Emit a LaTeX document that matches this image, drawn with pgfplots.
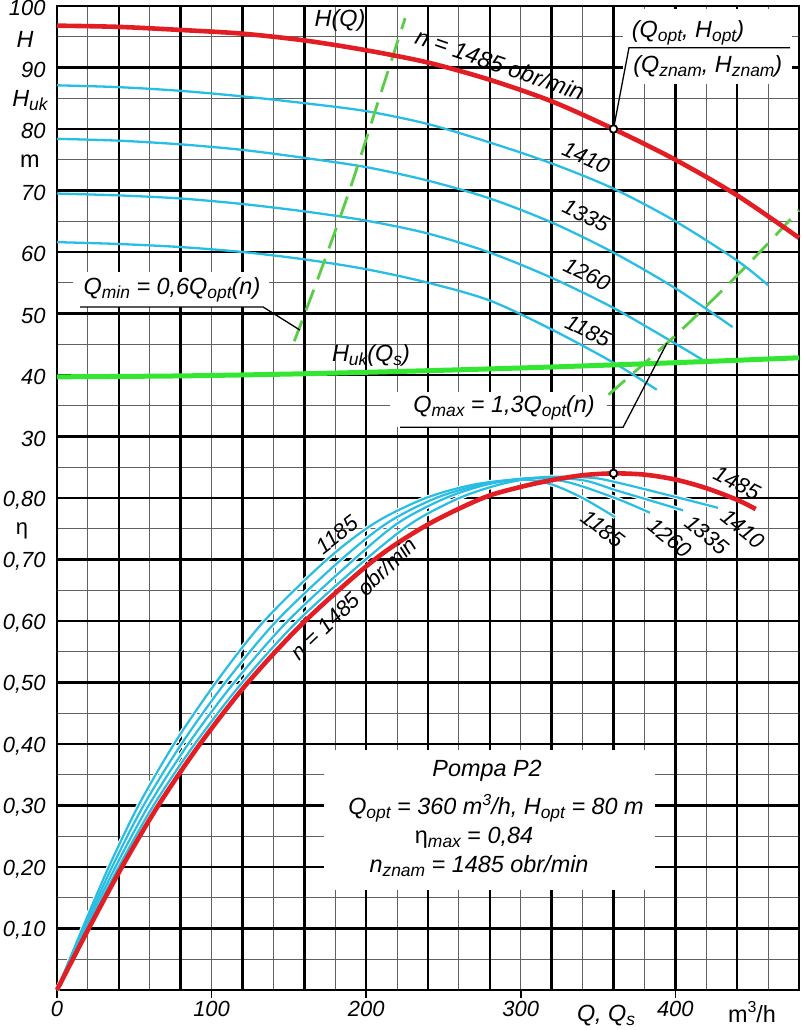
\documentclass[border=0pt]{standalone}
\usepackage{pgfplots}
\usepackage{pgfplotstable}
\pgfplotsset{compat=1.18}
\usepackage{fontspec}
\setmainfont{Liberation Sans}
\definecolor{cred}{RGB}{226,30,36}
\definecolor{ccyan}{RGB}{40,190,228}
\definecolor{cgreen}{RGB}{50,230,50}
\definecolor{cdash}{RGB}{90,205,70}
\newcommand{\fs}{\fontsize{22}{24}\selectfont}
\newcommand{\fl}{\fontsize{23.5}{26}\selectfont}
\newcommand{\sbs}[1]{\raisebox{-0.32ex}{\fontsize{17.5}{18}\selectfont\itshape #1}}
\newcommand{\sps}[1]{\raisebox{0.75ex}{\fontsize{16}{17}\selectfont #1}}

% H(Q) curves
\pgfplotstableread{
Q H
0 96.8
40 96.6
80 96.1
120 95.5
160 94.4
200 92.8
240 90.8
280 88.0
320 84.5
360 80.0
400 75.0
440 69.2
480 62.3
}\hA
\pgfplotstableread{
Q H
0 87.1
40 86.8
80 86.2
120 85.3
160 84.2
200 82.9
240 80.8
280 77.8
320 74.4
360 70.3
400 65.0
440 58.6
460 54.6
}\hB
\pgfplotstableread{
Q H
0 78.4
40 78.1
80 77.5
120 76.6
160 75.3
200 73.8
240 71.6
280 68.7
320 64.8
360 59.9
400 54.1
437 47.8
}\hC
\pgfplotstableread{
Q H
0 69.5
40 69.2
80 68.7
120 67.8
160 66.6
200 65.1
240 63.0
280 59.9
320 55.8
360 50.9
400 45.1
418 42.4
}\hD
\pgfplotstableread{
Q H
0 61.6
40 61.3
80 60.8
120 60.0
160 58.8
200 57.2
240 55.0
280 52.1
320 47.4
360 42.0
388 37.6
}\hE
\pgfplotstableread{
Q H
0 39.7
80 39.85
160 40.2
240 40.7
320 41.3
400 42.0
480 42.8
}\huk
\pgfplotstableread{
Q H
153.5 45.5
170 56.5
190 70.6
210 86.2
225.2 98.0
}\qmin
\pgfplotstableread{
Q H
356.8 36.8
380 41.9
400 46.4
420 51.2
440 56.2
460 61.4
480 66.8
}\qmax

% efficiency curves
\pgfplotstableread{
Q eta
0 0
20.5 0.1
42 0.2
65.5 0.3
92.5 0.4
123.5 0.5
160.5 0.6
205.5 0.7
240 0.757
275.5 0.8
300 0.818
320 0.829
340 0.837
360 0.840
380 0.838
400 0.830
420 0.816
440 0.797
452 0.782
}\eA
\pgfplotstableread{
Q eta
0 0
19.5 0.1
39.9 0.2
62.4 0.3
89.1 0.4
119.8 0.5
155.7 0.6
199.7 0.7
230 0.76
260.3 0.8
288 0.823
315 0.834
345 0.833
361 0.826
395 0.805
427.6 0.784
}\eB
\pgfplotstableread{
Q eta
0 0
18.4 0.1
37.8 0.2
59.3 0.3
84.9 0.4
114.6 0.5
149.3 0.6
192.1 0.7
221 0.76
251.5 0.8
280 0.823
310 0.833
340 0.829
361 0.813
385 0.795
405 0.780
}\eC
\pgfplotstableread{
Q eta
0 0
17.4 0.1
35.6 0.2
56.0 0.3
80.5 0.4
108.9 0.5
142.0 0.6
183.9 0.7
214 0.76
245.2 0.8
275 0.822
305 0.832
330 0.826
361 0.800
383.6 0.776
}\eD
\pgfplotstableread{
Q eta
0 0
16.4 0.1
33.5 0.2
52.7 0.3
75.7 0.4
102.8 0.5
134.0 0.6
174.7 0.7
206 0.76
238.6 0.8
270 0.822
300 0.830
320 0.822
340 0.800
361 0.769
}\eE

\begin{document}
\begin{tikzpicture}
\path[use as bounding box] (-57bp,-40bp) rectangle (746bp,990bp);
% ---------- efficiency axis (also draws grid and ticks) ----------
\begin{axis}[
  at={(0,0)}, anchor=south west, scale only axis,
  width=742bp, height=984bp,
  xmin=0, xmax=480, ymin=0, ymax=1.6,
  clip=false,
  axis line style={line width=2.8bp, black},
  xtick={0,100,200,300,400},
  xticklabels={0,100,200,300,400},
  xtick pos=bottom, ytick pos=left,
  tick align=outside,
  major tick length=8bp,
  minor tick length=0bp,
  xtick style={line width=1.6bp, black},
  ytick style={draw=none},
  ytick={0.1,0.2,0.3,0.4,0.5,0.6,0.7,0.8,0.9,1.0,1.1,1.2,1.3,1.4,1.5,1.6},
  yticklabels={{0,10},{0,20},{0,30},{0,40},{0,50},{0,60},{0,70},{0,80},30,40,50,60,70,80,90,100},
  yticklabel style={yshift=-2bp},
  minor xtick={20,40,...,460},
  minor ytick={0.05,0.15,0.25,0.35,0.45,0.55,0.65,0.75,0.85,0.95,1.05,1.15,1.25,1.35,1.45,1.55},
  xmajorgrids=false, ymajorgrids=true,
  xminorgrids=true, yminorgrids=true,
  major grid style={line width=2.4bp, black},
  minor grid style={line width=1.1bp, black!62},
  extra x ticks={40,80,120,160,200,240,280,320,360,400,440},
  extra x tick labels={},
  extra x tick style={xmajorgrids=true, major tick length=0bp},
  tick label style={font=\fs\itshape},
]
% info box
\fill[white] (axis cs:172.7,0.163) rectangle (axis cs:386.9,0.390);
\node[font=\fl\itshape] at (axis cs:278.2,0.356) {Pompa P2};
\node[font=\fl\itshape] at (axis cs:284,0.296) {Q\sbs{opt} = 360 m\sps{3}/h, H\sbs{opt} = 80 m};
\node[font=\fl] at (axis cs:269.8,0.247) {η\sbs{max} = \textit{0,84}};
\node[font=\fl\itshape] at (axis cs:273,0.2016) {n\sbs{znam} = 1485 obr/min};
% white casings
\addplot[white, line width=4.4bp, smooth] table[x=Q,y=eta] {\eB};
\addplot[white, line width=4.4bp, smooth] table[x=Q,y=eta] {\eC};
\addplot[white, line width=4.4bp, smooth] table[x=Q,y=eta] {\eD};
\addplot[white, line width=4.4bp, smooth] table[x=Q,y=eta] {\eE};
\addplot[ccyan, line width=2.2bp, smooth] table[x=Q,y=eta] {\eB};
\addplot[ccyan, line width=2.2bp, smooth] table[x=Q,y=eta] {\eC};
\addplot[ccyan, line width=2.2bp, smooth] table[x=Q,y=eta] {\eD};
\addplot[ccyan, line width=2.2bp, smooth] table[x=Q,y=eta] {\eE};
\addplot[cred, line width=4.6bp, smooth] table[x=Q,y=eta] {\eA};
\addplot[only marks, mark=*, mark size=3.8bp, mark options={fill=white, draw=black, line width=1.8bp}] coordinates {(360,0.84)};
% labels
\node[font=\fs\itshape, rotate=-27] at (axis cs:439.9,0.824) {1485};
\node[font=\fs\itshape, rotate=-39] at (axis cs:443.8,0.750) {1410};
\node[font=\fs\itshape, rotate=-40] at (axis cs:420.5,0.740) {1335};
\node[font=\fs\itshape, rotate=-39] at (axis cs:396.6,0.735) {1260};
\node[font=\fs\itshape, rotate=-38] at (axis cs:353.2,0.750) {1185};
\node[font=\fs\itshape, rotate=38] at (axis cs:181.1,0.740) {1185};
\node[font=\fs\itshape, rotate=44] at (axis cs:192,0.637) {n = 1485 obr/min};
\node[font=\fs] at (axis cs:-22.6,0.746) {η};
\node[font=\fl\itshape] at (axis cs:355.2,-0.041) {Q, Q\sbs{s}};
\node[font=\fl] at (axis cs:449.6,-0.036) {m\sps{3}/h};
\end{axis}
% ---------- head axis ----------
\begin{axis}[
  at={(0,0)}, anchor=south west, scale only axis,
  width=742bp, height=984bp,
  xmin=0, xmax=480, ymin=-60, ymax=100,
  hide axis, clip=false,
]
\fill[white] (axis cs:10.6,51.06) rectangle (axis cs:136.9,56.8);
\fill[white] (axis cs:215.7,31.5) rectangle (axis cs:355.5,37.3);
\fill[white] (axis cs:366.2,87.3) rectangle (axis cs:475.5,99.55);
\addplot[ccyan, line width=2.3bp, smooth] table[x=Q,y=H] {\hB};
\addplot[ccyan, line width=2.3bp, smooth] table[x=Q,y=H] {\hC};
\addplot[ccyan, line width=2.3bp, smooth] table[x=Q,y=H] {\hD};
\addplot[ccyan, line width=2.3bp, smooth] table[x=Q,y=H] {\hE};
\addplot[cdash, line width=2.8bp, dash pattern=on 22bp off 11bp, smooth] table[x=Q,y=H] {\qmin};
\addplot[cdash, line width=2.8bp, dash pattern=on 22bp off 11bp, smooth] table[x=Q,y=H] {\qmax};
\addplot[cgreen, line width=5bp, smooth] table[x=Q,y=H] {\huk};
\addplot[cred, line width=4.6bp, smooth] table[x=Q,y=H] {\hA};
% leaders
\draw[line width=1.3bp] (axis cs:14.9,51.06) -- (axis cs:133.3,51.06) -- (axis cs:157.2,47.3);
\draw[line width=1.3bp] (axis cs:221.9,31.5) -- (axis cs:366.2,31.5) -- (axis cs:394.6,45.2);
\draw[line width=1.3bp] (axis cs:360,80) -- (axis cs:370,93.2) -- (axis cs:474.2,93.2);
\addplot[only marks, mark=*, mark size=3.8bp, mark options={fill=white, draw=black, line width=1.8bp}] coordinates {(360,80)};
% labels
\node[font=\fl\itshape] at (axis cs:74.4,53.9) {Q\sbs{min} = 0,6Q\sbs{opt}(n)};
\node[font=\fl\itshape] at (axis cs:289.2,34.7) {Q\sbs{max} = 1,3Q\sbs{opt}(n)};
\node[font=\fl\itshape] at (axis cs:408.2,95.7) {(Q\sbs{opt}, H\sbs{opt})};
\node[font=\fl\itshape] at (axis cs:421,90.2) {(Q\sbs{znam}, H\sbs{znam})};
\node[font=\fl\itshape] at (axis cs:183.1,97.7) {H(Q)};
\node[font=\fl\itshape, rotate=-19] at (axis cs:286.6,90.5) {n = 1485 obr/min};
\node[font=\fs\itshape, rotate=-24] at (axis cs:342.2,75.4) {1410};
\node[font=\fs\itshape, rotate=-26] at (axis cs:342.2,65.9) {1335};
\node[font=\fs\itshape, rotate=-26] at (axis cs:342.9,56.4) {1260};
\node[font=\fs\itshape, rotate=-26] at (axis cs:343.5,47.2) {1185};
\node[font=\fl\itshape] at (axis cs:203.1,43.1) {H\sbs{uk}(Q\sbs{s})};
\node[font=\fl\itshape] at (axis cs:-20.7,94.5) {H};
\node[font=\fl\itshape] at (axis cs:-17.5,84.6) {H\sbs{uk}};
\node[font=\fl] at (axis cs:-17.5,74.8) {m};
\end{axis}
\end{tikzpicture}
\end{document}
